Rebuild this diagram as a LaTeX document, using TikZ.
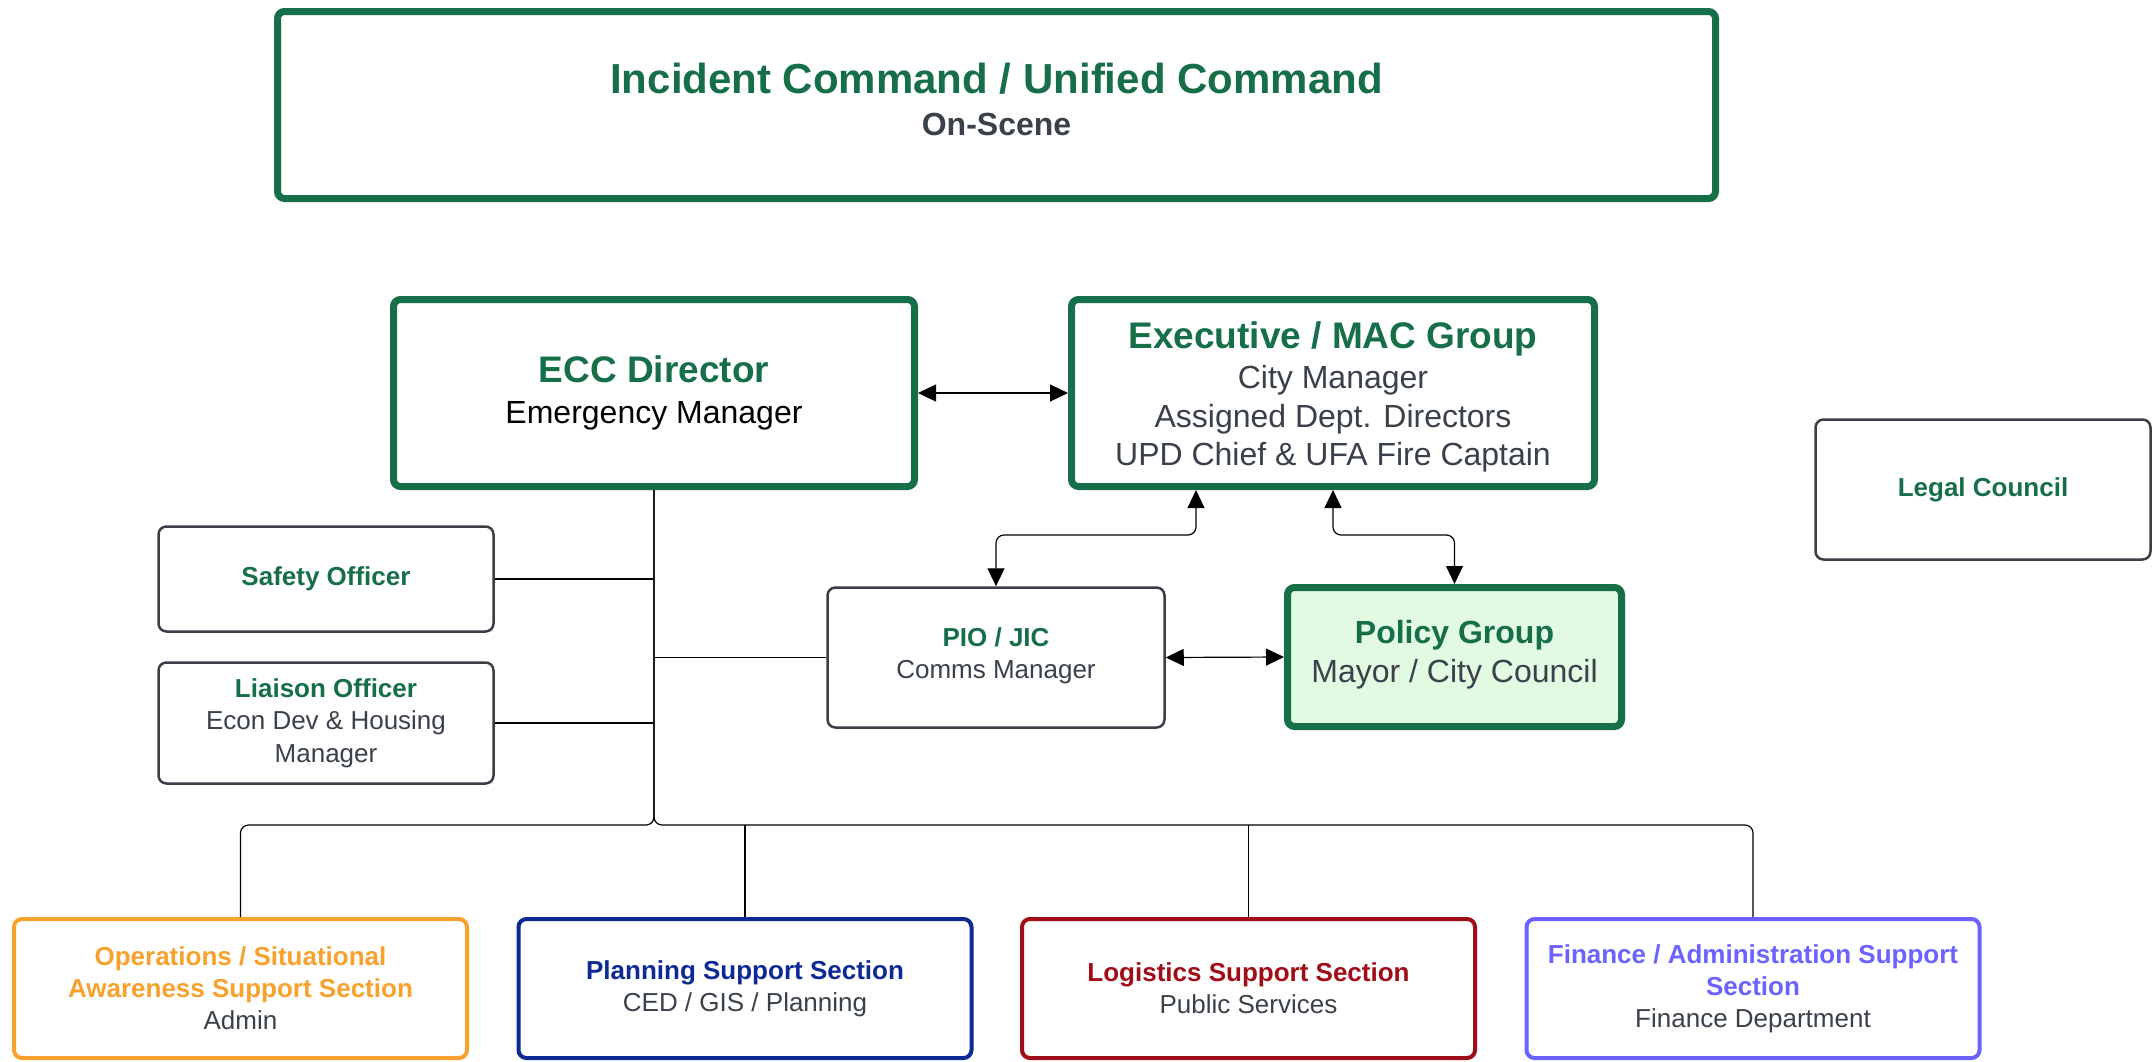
\documentclass[tikz,border=0pt]{standalone}
\usepackage{fontspec}
\setmainfont{Liberation Sans}
\usetikzlibrary{arrows.meta,calc}
\definecolor{icgreen}{HTML}{166F49}
\definecolor{txtgray}{HTML}{3A414A}
\definecolor{boxgray}{HTML}{3A3F47}
\definecolor{opsorange}{HTML}{F8A12C}
\definecolor{plannavy}{HTML}{0C2A92}
\definecolor{logred}{HTML}{A00C18}
\definecolor{finblue}{HTML}{6B62FF}
\definecolor{policyfill}{HTML}{E2F9E2}
\begin{document}
\begin{tikzpicture}[x=1pt,y=-1pt,
  bigbox/.style={draw=icgreen, line width=7pt, rounded corners=7pt, fill=white, align=center, inner sep=0pt,
    font=\fontsize{32}{38.5}\selectfont, text=txtgray},
  smallbox/.style={draw=boxgray, line width=2.5pt, rounded corners=8pt, fill=white, align=center, inner sep=0pt,
    font=\fontsize{26}{32.5}\selectfont, text=txtgray},
  secbox/.style={line width=4pt, rounded corners=8pt, fill=white, align=center, inner sep=0pt,
    minimum width=453pt, minimum height=139pt, font=\fontsize{26}{32}\selectfont, text=txtgray},
  conn/.style={line width=1.2pt, draw=black, rounded corners=8pt},
  arr/.style={conn, {Triangle[length=18pt,width=17pt]}-{Triangle[length=18pt,width=17pt]}}
]
\useasboundingbox (0,0) rectangle (2156,1061);

% top
\node[bigbox, minimum width=1438pt, minimum height=187pt] (ic) at (996.5,105)
  {{\fontsize{42}{50}\selectfont\bfseries\color{icgreen}Incident Command / Unified Command}\\[3.5pt]
   {\bfseries On-Scene}\\[-27.5pt]};

\node[bigbox, minimum width=521pt, minimum height=187pt] (ecc) at (654,393)
  {{\fontsize{37}{44}\selectfont\bfseries\color{icgreen}ECC Director}\\[3pt]
   {\color{black}Emergency Manager}};

\node[bigbox, minimum width=523pt, minimum height=187pt] (exec) at (1333,393)
  {{\fontsize{37}{44}\selectfont\bfseries\color{icgreen}\rule{0pt}{34.5pt}Executive / MAC Group}\\[2pt]
   City Manager\\Assigned Dept. Directors\\UPD Chief \& UFA Fire Captain};

\node[smallbox, minimum width=335pt, minimum height=140pt] (legal) at (1983,489.5)
  {\bfseries\color{icgreen}Legal Council};

\node[smallbox, minimum width=335pt, minimum height=105pt] (safety) at (326,579)
  {\bfseries\color{icgreen}Safety Officer};

\node[smallbox, minimum width=335pt, minimum height=121pt] (liaison) at (326,723)
  {{\bfseries\color{icgreen}Liaison Officer}\\Econ Dev \& Housing\\Manager};

\node[smallbox, minimum width=337pt, minimum height=140pt] (pio) at (996,657.5)
  {{\bfseries\color{icgreen}PIO / JIC}\\Comms Manager\\[-24pt]};

\node[bigbox, fill=policyfill, minimum width=334pt, minimum height=139pt] (policy) at (1454.5,657)
  {{\bfseries\color{icgreen}Policy Group}\\Mayor / City Council\\[-27pt]};

% sections
\node[secbox, draw=opsorange] (ops) at (240.5,988.5)
  {{\bfseries\color{opsorange}Operations / Situational}\\{\bfseries\color{opsorange}Awareness Support Section}\\Admin};
\node[secbox, draw=plannavy] (plan) at (745,988.5)
  {{\bfseries\color{plannavy}Planning Support Section}\\CED / GIS / Planning};
\node[secbox, draw=logred] (log) at (1248.5,988.5)
  {{\bfseries\color{logred}Logistics Support Section}\\Public Services};
\node[secbox, draw=finblue] (fin) at (1753,988.5)
  {{\bfseries\color{finblue}Finance / Administration Support}\\{\bfseries\color{finblue}Section}\\Finance Department};

% connectors
\draw[arr] (ecc.east) -- (exec.west |- ecc.east);
\draw[arr] ([xshift=-137pt]exec.south) -- ++(0,45) -| (pio.north);
\draw[arr] (exec.south) -- ++(0,45) -| (policy.north);
\draw[arr] (pio.east) -- (policy.west);

\draw[conn] (safety.east) -- (safety.east -| ecc.south);
\draw[conn] (liaison.east) -- (liaison.east -| ecc.south);
\draw[conn] (pio.west) -- (pio.west -| ecc.south);

\coordinate (bus) at ($(ecc.south)+(0,335)$);
\draw[conn] (ecc.south) -- (bus) -| (ops.north);
\draw[conn] (ecc.south) -- (bus) -| (fin.north);
\draw[conn] (plan.north) -- (plan.north |- bus);
\draw[conn] (log.north) -- (log.north |- bus);
\end{tikzpicture}
\end{document}
